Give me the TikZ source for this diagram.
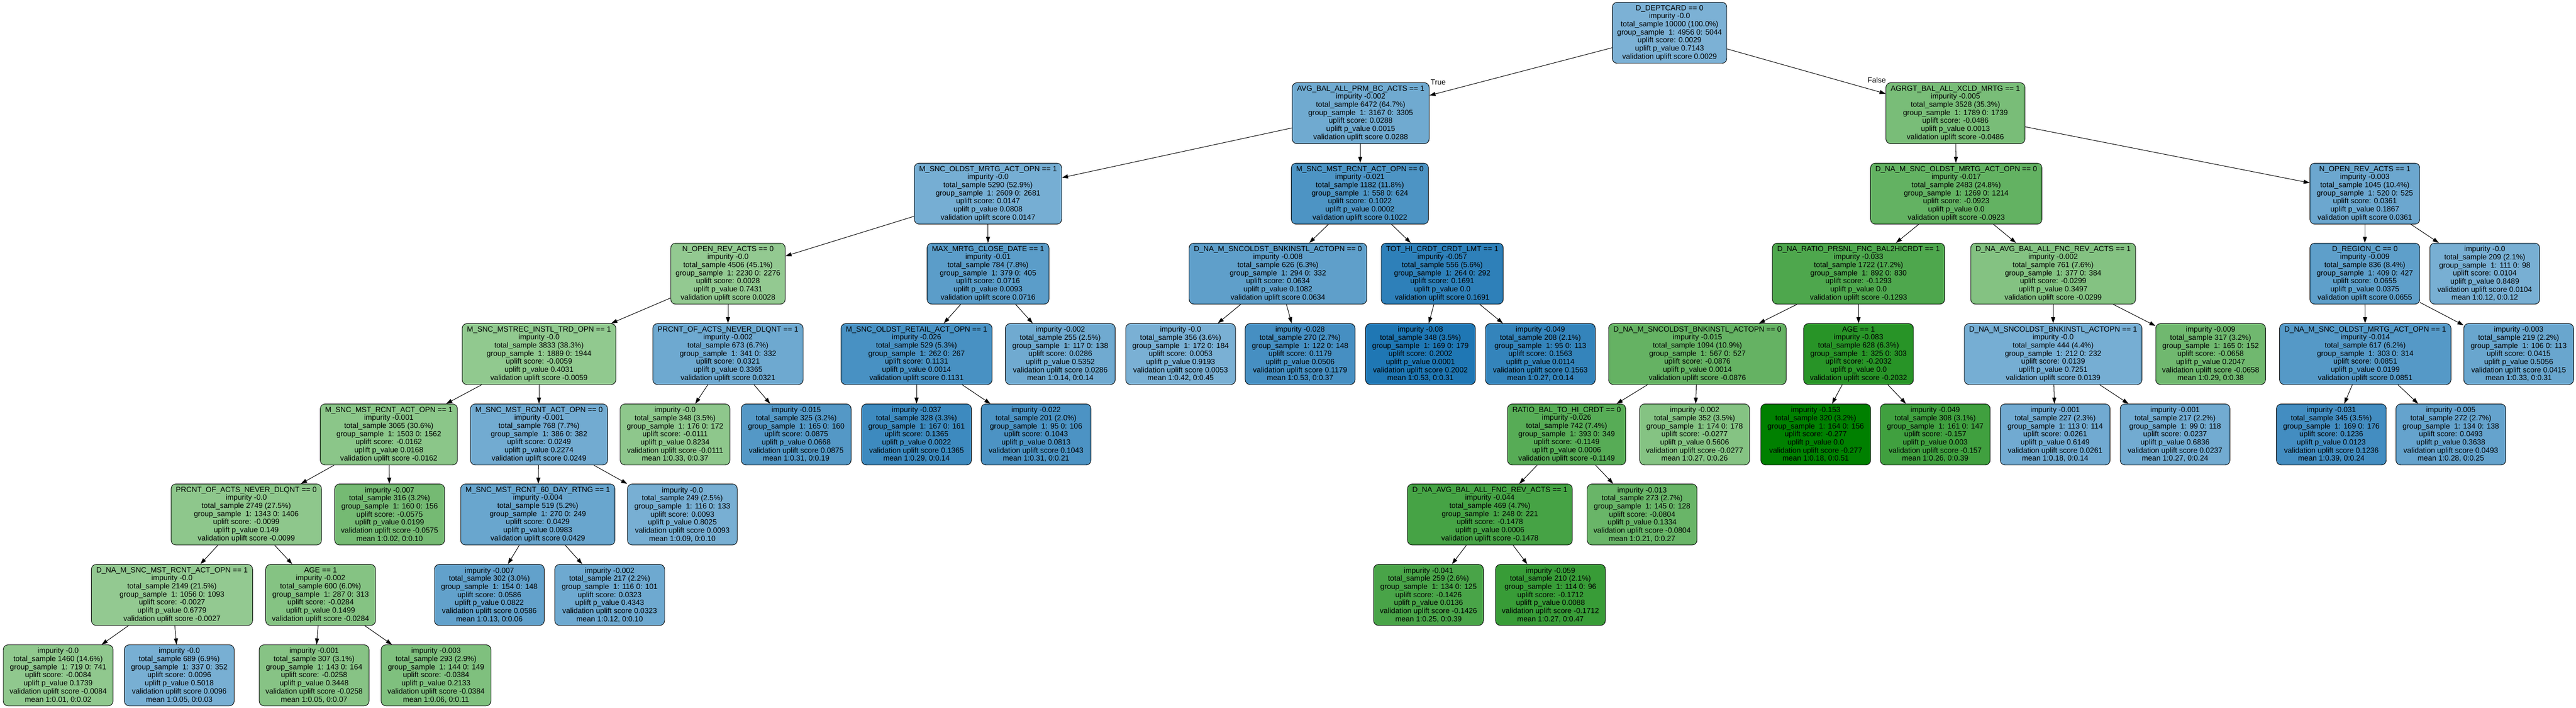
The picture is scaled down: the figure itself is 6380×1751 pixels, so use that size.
\documentclass[tikz,border=0pt]{standalone}
\usepackage{fontspec}
\setmainfont{Liberation Sans}
\usepackage{tikz}
\usetikzlibrary{shapes.geometric, arrows.meta}
\definecolor{blo}{RGB}{125,178,213}
\definecolor{bhi}{RGB}{31,119,180}
\definecolor{glo}{RGB}{148,202,146}
\definecolor{ghi}{RGB}{0,128,0}
\tikzstyle{box} = [draw, line width=1.2pt, rounded corners=12pt, align=center, anchor=north, minimum width=272pt, minimum height=151pt, inner xsep=12pt, inner ysep=2pt, font=\fontsize{18.5}{20}\selectfont]
\tikzstyle{arrow} = [line width=1.3pt, -{Triangle[length=15pt,width=10pt]}]
\tikzstyle{lbl} = [font=\fontsize{18.5}{20}\selectfont]
\tikzset{blu/.style={box, fill=bhi!#1!blo}, grn/.style={box, fill=ghi!#1!glo}}

\begin{document}
\begin{tikzpicture}[x=1pt,y=-1pt]
\useasboundingbox (0,0) rectangle (6380,1751);
\node[blu=1] (root) at (4135,5) {D\_DEPTCARD == 0\\impurity -0.0\\total\_sample 10000 (100.0\%)\\group\_sample\ \ 1: 4956 0: 5044\\uplift score: 0.0029\\uplift p\_value 0.7143\\validation uplift score 0.0029};
\node[blu=14] (avg) at (3370,204) {AVG\_BAL\_ALL\_PRM\_BC\_ACTS == 1\\impurity -0.002\\total\_sample 6472 (64.7\%)\\group\_sample\ \ 1: 3167 0: 3305\\uplift score: 0.0288\\uplift p\_value 0.0015\\validation uplift score 0.0288};
\node[grn=18] (agrgt) at (4843,204) {AGRGT\_BAL\_ALL\_XCLD\_MRTG == 1\\impurity -0.005\\total\_sample 3528 (35.3\%)\\group\_sample\ \ 1: 1789 0: 1739\\uplift score: -0.0486\\uplift p\_value 0.0013\\validation uplift score -0.0486};

\node[blu=7] (oldmrtg) at (2447,403) {M\_SNC\_OLDST\_MRTG\_ACT\_OPN == 1\\impurity -0.0\\total\_sample 5290 (52.9\%)\\group\_sample\ \ 1: 2609 0: 2681\\uplift score: 0.0147\\uplift p\_value 0.0808\\validation uplift score 0.0147};
\node[blu=51] (rcnt) at (3368,403) {M\_SNC\_MST\_RCNT\_ACT\_OPN == 0\\impurity -0.021\\total\_sample 1182 (11.8\%)\\group\_sample\ \ 1: 558 0: 624\\uplift score: 0.1022\\uplift p\_value 0.0002\\validation uplift score 0.1022};
\node[grn=33] (naoldmrtg) at (4845,403) {D\_NA\_M\_SNC\_OLDST\_MRTG\_ACT\_OPN == 0\\impurity -0.017\\total\_sample 2483 (24.8\%)\\group\_sample\ \ 1: 1269 0: 1214\\uplift score: -0.0923\\uplift p\_value 0.0\\validation uplift score -0.0923};
\node[blu=18] (openrev) at (5857,403) {N\_OPEN\_REV\_ACTS == 1\\impurity -0.003\\total\_sample 1045 (10.4\%)\\group\_sample\ \ 1: 520 0: 525\\uplift score: 0.0361\\uplift p\_value 0.1867\\validation uplift score 0.0361};

\node[grn=1] (openrevz) at (1803,601) {N\_OPEN\_REV\_ACTS == 0\\impurity -0.0\\total\_sample 4506 (45.1\%)\\group\_sample\ \ 1: 2230 0: 2276\\uplift score: 0.0028\\uplift p\_value 0.7431\\validation uplift score 0.0028};
\node[blu=36] (maxmrtg) at (2447,601) {MAX\_MRTG\_CLOSE\_DATE == 1\\impurity -0.01\\total\_sample 784 (7.8\%)\\group\_sample\ \ 1: 379 0: 405\\uplift score: 0.0716\\uplift p\_value 0.0093\\validation uplift score 0.0716};
\node[blu=32] (bnkinstl) at (3165,601) {D\_NA\_M\_SNCOLDST\_BNKINSTL\_ACTOPN == 0\\impurity -0.008\\total\_sample 626 (6.3\%)\\group\_sample\ \ 1: 294 0: 332\\uplift score: 0.0634\\uplift p\_value 0.1082\\validation uplift score 0.0634};
\node[blu=84] (tothi) at (3572,601) {TOT\_HI\_CRDT\_CRDT\_LMT == 1\\impurity -0.057\\total\_sample 556 (5.6\%)\\group\_sample\ \ 1: 264 0: 292\\uplift score: 0.1691\\uplift p\_value 0.0\\validation uplift score 0.1691};
\node[grn=47] (ratioprsnl) at (4603,601) {D\_NA\_RATIO\_PRSNL\_FNC\_BAL2HICRDT == 1\\impurity -0.033\\total\_sample 1722 (17.2\%)\\group\_sample\ \ 1: 892 0: 830\\uplift score: -0.1293\\uplift p\_value 0.0\\validation uplift score -0.1293};
\node[grn=11] (navgbal) at (5085,601) {D\_NA\_AVG\_BAL\_ALL\_FNC\_REV\_ACTS == 1\\impurity -0.002\\total\_sample 761 (7.6\%)\\group\_sample\ \ 1: 377 0: 384\\uplift score: -0.0299\\uplift p\_value 0.3497\\validation uplift score -0.0299};
\node[blu=33] (region) at (5857,601) {D\_REGION\_C == 0\\impurity -0.009\\total\_sample 836 (8.4\%)\\group\_sample\ \ 1: 409 0: 427\\uplift score: 0.0655\\uplift p\_value 0.0375\\validation uplift score 0.0655};
\node[blu=5] (lfa) at (6154,601) {impurity -0.0\\total\_sample 209 (2.1\%)\\group\_sample\ \ 1: 111 0: 98\\uplift score: 0.0104\\uplift p\_value 0.8489\\validation uplift score 0.0104\\mean 1:0.12, 0:0.12};

\node[grn=2] (mstrec) at (1335,800) {M\_SNC\_MSTREC\_INSTL\_TRD\_OPN == 1\\impurity -0.0\\total\_sample 3833 (38.3\%)\\group\_sample\ \ 1: 1889 0: 1944\\uplift score: -0.0059\\uplift p\_value 0.4031\\validation uplift score -0.0059};
\node[blu=16] (neverdlq) at (1803,800) {PRCNT\_OF\_ACTS\_NEVER\_DLQNT == 1\\impurity -0.002\\total\_sample 673 (6.7\%)\\group\_sample\ \ 1: 341 0: 332\\uplift score: 0.0321\\uplift p\_value 0.3365\\validation uplift score 0.0321};
\node[blu=56] (retail) at (2270,800) {M\_SNC\_OLDST\_RETAIL\_ACT\_OPN == 1\\impurity -0.026\\total\_sample 529 (5.3\%)\\group\_sample\ \ 1: 262 0: 267\\uplift score: 0.1131\\uplift p\_value 0.0014\\validation uplift score 0.1131};
\node[blu=14] (lfb) at (2626,800) {impurity -0.002\\total\_sample 255 (2.5\%)\\group\_sample\ \ 1: 117 0: 138\\uplift score: 0.0286\\uplift p\_value 0.5352\\validation uplift score 0.0286\\mean 1:0.14, 0:0.14};
\node[blu=3] (lfc) at (2924,800) {impurity -0.0\\total\_sample 356 (3.6\%)\\group\_sample\ \ 1: 172 0: 184\\uplift score: 0.0053\\uplift p\_value 0.9193\\validation uplift score 0.0053\\mean 1:0.42, 0:0.45};
\node[blu=59] (lfd) at (3220,800) {impurity -0.028\\total\_sample 270 (2.7\%)\\group\_sample\ \ 1: 122 0: 148\\uplift score: 0.1179\\uplift p\_value 0.0506\\validation uplift score 0.1179\\mean 1:0.53, 0:0.37};
\node[blu=100] (lfe) at (3518,800) {impurity -0.08\\total\_sample 348 (3.5\%)\\group\_sample\ \ 1: 169 0: 179\\uplift score: 0.2002\\uplift p\_value 0.0001\\validation uplift score 0.2002\\mean 1:0.53, 0:0.31};
\node[blu=78] (lff) at (3815,800) {impurity -0.049\\total\_sample 208 (2.1\%)\\group\_sample\ \ 1: 95 0: 113\\uplift score: 0.1563\\uplift p\_value 0.0114\\validation uplift score 0.1563\\mean 1:0.27, 0:0.14};
\node[grn=32] (bnkzero) at (4204,800) {D\_NA\_M\_SNCOLDST\_BNKINSTL\_ACTOPN == 0\\impurity -0.015\\total\_sample 1094 (10.9\%)\\group\_sample\ \ 1: 567 0: 527\\uplift score: -0.0876\\uplift p\_value 0.0014\\validation uplift score -0.0876};
\node[grn=73] (age) at (4603,800) {AGE == 1\\impurity -0.083\\total\_sample 628 (6.3\%)\\group\_sample\ \ 1: 325 0: 303\\uplift score: -0.2032\\uplift p\_value 0.0\\validation uplift score -0.2032};
\node[blu=7] (bnkone) at (5085,800) {D\_NA\_M\_SNCOLDST\_BNKINSTL\_ACTOPN == 1\\impurity -0.0\\total\_sample 444 (4.4\%)\\group\_sample\ \ 1: 212 0: 232\\uplift score: 0.0139\\uplift p\_value 0.7251\\validation uplift score 0.0139};
\node[grn=24] (lfg) at (5475,800) {impurity -0.009\\total\_sample 317 (3.2\%)\\group\_sample\ \ 1: 165 0: 152\\uplift score: -0.0658\\uplift p\_value 0.2047\\validation uplift score -0.0658\\mean 1:0.29, 0:0.38};
\node[blu=43] (namrtgone) at (5858,800) {D\_NA\_M\_SNC\_OLDST\_MRTG\_ACT\_OPN == 1\\impurity -0.014\\total\_sample 617 (6.2\%)\\group\_sample\ \ 1: 303 0: 314\\uplift score: 0.0851\\uplift p\_value 0.0199\\validation uplift score 0.0851};
\node[blu=21] (lfh) at (6238,800) {impurity -0.003\\total\_sample 219 (2.2\%)\\group\_sample\ \ 1: 106 0: 113\\uplift score: 0.0415\\uplift p\_value 0.5056\\validation uplift score 0.0415\\mean 1:0.33, 0:0.31};

\node[grn=6] (rcntone) at (963,999) {M\_SNC\_MST\_RCNT\_ACT\_OPN == 1\\impurity -0.001\\total\_sample 3065 (30.6\%)\\group\_sample\ \ 1: 1503 0: 1562\\uplift score: -0.0162\\uplift p\_value 0.0168\\validation uplift score -0.0162};
\node[blu=12] (rcntzero) at (1335,999) {M\_SNC\_MST\_RCNT\_ACT\_OPN == 0\\impurity -0.001\\total\_sample 768 (7.7\%)\\group\_sample\ \ 1: 386 0: 382\\uplift score: 0.0249\\uplift p\_value 0.2274\\validation uplift score 0.0249};
\node[grn=4] (lfi) at (1672,999) {impurity -0.0\\total\_sample 348 (3.5\%)\\group\_sample\ \ 1: 176 0: 172\\uplift score: -0.0111\\uplift p\_value 0.8234\\validation uplift score -0.0111\\mean 1:0.33, 0:0.37};
\node[blu=44] (lfj) at (1972,999) {impurity -0.015\\total\_sample 325 (3.2\%)\\group\_sample\ \ 1: 165 0: 160\\uplift score: 0.0875\\uplift p\_value 0.0668\\validation uplift score 0.0875\\mean 1:0.31, 0:0.19};
\node[blu=68] (lfk) at (2270,999) {impurity -0.037\\total\_sample 328 (3.3\%)\\group\_sample\ \ 1: 167 0: 161\\uplift score: 0.1365\\uplift p\_value 0.0022\\validation uplift score 0.1365\\mean 1:0.29, 0:0.14};
\node[blu=52] (lfl) at (2566,999) {impurity -0.022\\total\_sample 201 (2.0\%)\\group\_sample\ \ 1: 95 0: 106\\uplift score: 0.1043\\uplift p\_value 0.0813\\validation uplift score 0.1043\\mean 1:0.31, 0:0.21};
\node[grn=41] (ratiobal) at (3880,999) {RATIO\_BAL\_TO\_HI\_CRDT == 0\\impurity -0.026\\total\_sample 742 (7.4\%)\\group\_sample\ \ 1: 393 0: 349\\uplift score: -0.1149\\uplift p\_value 0.0006\\validation uplift score -0.1149};
\node[grn=10] (lfm) at (4197,999) {impurity -0.002\\total\_sample 352 (3.5\%)\\group\_sample\ \ 1: 174 0: 178\\uplift score: -0.0277\\uplift p\_value 0.5606\\validation uplift score -0.0277\\mean 1:0.27, 0:0.26};
\node[grn=100] (lfn) at (4497,999) {impurity -0.153\\total\_sample 320 (3.2\%)\\group\_sample\ \ 1: 164 0: 156\\uplift score: -0.277\\uplift p\_value 0.0\\validation uplift score -0.277\\mean 1:0.18, 0:0.51};
\node[grn=57] (lfo) at (4793,999) {impurity -0.049\\total\_sample 308 (3.1\%)\\group\_sample\ \ 1: 161 0: 147\\uplift score: -0.157\\uplift p\_value 0.003\\validation uplift score -0.157\\mean 1:0.26, 0:0.39};
\node[blu=13] (lfp) at (5090,999) {impurity -0.001\\total\_sample 227 (2.3\%)\\group\_sample\ \ 1: 113 0: 114\\uplift score: 0.0261\\uplift p\_value 0.6149\\validation uplift score 0.0261\\mean 1:0.18, 0:0.14};
\node[blu=12] (lfq) at (5387,999) {impurity -0.001\\total\_sample 217 (2.2\%)\\group\_sample\ \ 1: 99 0: 118\\uplift score: 0.0237\\uplift p\_value 0.6836\\validation uplift score 0.0237\\mean 1:0.27, 0:0.24};
\node[blu=62] (lfr) at (5774,999) {impurity -0.031\\total\_sample 345 (3.5\%)\\group\_sample\ \ 1: 169 0: 176\\uplift score: 0.1236\\uplift p\_value 0.0123\\validation uplift score 0.1236\\mean 1:0.39, 0:0.24};
\node[blu=25] (lfs) at (6070,999) {impurity -0.005\\total\_sample 272 (2.7\%)\\group\_sample\ \ 1: 134 0: 138\\uplift score: 0.0493\\uplift p\_value 0.3638\\validation uplift score 0.0493\\mean 1:0.28, 0:0.25};

\node[grn=4] (nvrzero) at (610,1197) {PRCNT\_OF\_ACTS\_NEVER\_DLQNT == 0\\impurity -0.0\\total\_sample 2749 (27.5\%)\\group\_sample\ \ 1: 1343 0: 1406\\uplift score: -0.0099\\uplift p\_value 0.149\\validation uplift score -0.0099};
\node[grn=21] (lft) at (965,1197) {impurity -0.007\\total\_sample 316 (3.2\%)\\group\_sample\ \ 1: 160 0: 156\\uplift score: -0.0575\\uplift p\_value 0.0199\\validation uplift score -0.0575\\mean 1:0.02, 0:0.10};
\node[blu=21] (sixty) at (1332,1197) {M\_SNC\_MST\_RCNT\_60\_DAY\_RTNG == 1\\impurity -0.004\\total\_sample 519 (5.2\%)\\group\_sample\ \ 1: 270 0: 249\\uplift score: 0.0429\\uplift p\_value 0.0983\\validation uplift score 0.0429};
\node[blu=5] (lfu) at (1690,1197) {impurity -0.0\\total\_sample 249 (2.5\%)\\group\_sample\ \ 1: 116 0: 133\\uplift score: 0.0093\\uplift p\_value 0.8025\\validation uplift score 0.0093\\mean 1:0.09, 0:0.10};
\node[grn=53] (navgsix) at (3690,1197) {D\_NA\_AVG\_BAL\_ALL\_FNC\_REV\_ACTS == 1\\impurity -0.044\\total\_sample 469 (4.7\%)\\group\_sample\ \ 1: 248 0: 221\\uplift score: -0.1478\\uplift p\_value 0.0006\\validation uplift score -0.1478};
\node[grn=29] (lfv) at (4067,1197) {impurity -0.013\\total\_sample 273 (2.7\%)\\group\_sample\ \ 1: 145 0: 128\\uplift score: -0.0804\\uplift p\_value 0.1334\\validation uplift score -0.0804\\mean 1:0.21, 0:0.27};

\node[grn=1] (nsncrcnt) at (426,1396) {D\_NA\_M\_SNC\_MST\_RCNT\_ACT\_OPN == 1\\impurity -0.0\\total\_sample 2149 (21.5\%)\\group\_sample\ \ 1: 1056 0: 1093\\uplift score: -0.0027\\uplift p\_value 0.6779\\validation uplift score -0.0027};
\node[grn=10] (agetwo) at (794,1396) {AGE == 1\\impurity -0.002\\total\_sample 600 (6.0\%)\\group\_sample\ \ 1: 287 0: 313\\uplift score: -0.0284\\uplift p\_value 0.1499\\validation uplift score -0.0284};
\node[blu=29] (lfw) at (1212,1396) {impurity -0.007\\total\_sample 302 (3.0\%)\\group\_sample\ \ 1: 154 0: 148\\uplift score: 0.0586\\uplift p\_value 0.0822\\validation uplift score 0.0586\\mean 1:0.13, 0:0.06};
\node[blu=16] (lfx) at (1510,1396) {impurity -0.002\\total\_sample 217 (2.2\%)\\group\_sample\ \ 1: 116 0: 101\\uplift score: 0.0323\\uplift p\_value 0.4343\\validation uplift score 0.0323\\mean 1:0.12, 0:0.10};
\node[grn=51] (lfy) at (3538,1396) {impurity -0.041\\total\_sample 259 (2.6\%)\\group\_sample\ \ 1: 134 0: 125\\uplift score: -0.1426\\uplift p\_value 0.0136\\validation uplift score -0.1426\\mean 1:0.25, 0:0.39};
\node[grn=62] (lfz) at (3840,1396) {impurity -0.059\\total\_sample 210 (2.1\%)\\group\_sample\ \ 1: 114 0: 96\\uplift score: -0.1712\\uplift p\_value 0.0088\\validation uplift score -0.1712\\mean 1:0.27, 0:0.47};

\node[grn=3] (lfaa) at (144,1595) {impurity -0.0\\total\_sample 1460 (14.6\%)\\group\_sample\ \ 1: 719 0: 741\\uplift score: -0.0084\\uplift p\_value 0.1739\\validation uplift score -0.0084\\mean 1:0.01, 0:0.02};
\node[blu=5] (lfab) at (444,1595) {impurity -0.0\\total\_sample 689 (6.9\%)\\group\_sample\ \ 1: 337 0: 352\\uplift score: 0.0096\\uplift p\_value 0.5018\\validation uplift score 0.0096\\mean 1:0.05, 0:0.03};
\node[grn=9] (lfac) at (778,1595) {impurity -0.001\\total\_sample 307 (3.1\%)\\group\_sample\ \ 1: 143 0: 164\\uplift score: -0.0258\\uplift p\_value 0.3448\\validation uplift score -0.0258\\mean 1:0.05, 0:0.07};
\node[grn=14] (lfad) at (1080,1595) {impurity -0.003\\total\_sample 293 (2.9\%)\\group\_sample\ \ 1: 144 0: 149\\uplift score: -0.0384\\uplift p\_value 0.2133\\validation uplift score -0.0384\\mean 1:0.06, 0:0.11};

\node[lbl] (truelbl) at (3562,203) {True};
\node[lbl] (falselbl) at (4648,198) {False};

\draw [arrow] (root) -- (avg);
\draw [arrow] (root) -- (agrgt);
\draw [arrow] (avg) -- (oldmrtg);
\draw [arrow] (avg) -- (rcnt);
\draw [arrow] (agrgt) -- (naoldmrtg);
\draw [arrow] (agrgt) -- (openrev);
\draw [arrow] (oldmrtg) -- (openrevz);
\draw [arrow] (oldmrtg) -- (maxmrtg);
\draw [arrow] (rcnt) -- (bnkinstl);
\draw [arrow] (rcnt) -- (tothi);
\draw [arrow] (naoldmrtg) -- (ratioprsnl);
\draw [arrow] (naoldmrtg) -- (navgbal);
\draw [arrow] (openrev) -- (region);
\draw [arrow] (openrev) -- (lfa);
\draw [arrow] (openrevz) -- (mstrec);
\draw [arrow] (openrevz) -- (neverdlq);
\draw [arrow] (maxmrtg) -- (retail);
\draw [arrow] (maxmrtg) -- (lfb);
\draw [arrow] (bnkinstl) -- (lfc);
\draw [arrow] (bnkinstl) -- (lfd);
\draw [arrow] (tothi) -- (lfe);
\draw [arrow] (tothi) -- (lff);
\draw [arrow] (ratioprsnl) -- (bnkzero);
\draw [arrow] (ratioprsnl) -- (age);
\draw [arrow] (navgbal) -- (bnkone);
\draw [arrow] (navgbal) -- (lfg);
\draw [arrow] (region) -- (namrtgone);
\draw [arrow] (region) -- (lfh);
\draw [arrow] (mstrec) -- (rcntone);
\draw [arrow] (mstrec) -- (rcntzero);
\draw [arrow] (neverdlq) -- (lfi);
\draw [arrow] (neverdlq) -- (lfj);
\draw [arrow] (retail) -- (lfk);
\draw [arrow] (retail) -- (lfl);
\draw [arrow] (bnkzero) -- (ratiobal);
\draw [arrow] (bnkzero) -- (lfm);
\draw [arrow] (age) -- (lfn);
\draw [arrow] (age) -- (lfo);
\draw [arrow] (bnkone) -- (lfp);
\draw [arrow] (bnkone) -- (lfq);
\draw [arrow] (namrtgone) -- (lfr);
\draw [arrow] (namrtgone) -- (lfs);
\draw [arrow] (rcntone) -- (nvrzero);
\draw [arrow] (rcntone) -- (lft);
\draw [arrow] (rcntzero) -- (sixty);
\draw [arrow] (rcntzero) -- (lfu);
\draw [arrow] (ratiobal) -- (navgsix);
\draw [arrow] (ratiobal) -- (lfv);
\draw [arrow] (nvrzero) -- (nsncrcnt);
\draw [arrow] (nvrzero) -- (agetwo);
\draw [arrow] (sixty) -- (lfw);
\draw [arrow] (sixty) -- (lfx);
\draw [arrow] (navgsix) -- (lfy);
\draw [arrow] (navgsix) -- (lfz);
\draw [arrow] (nsncrcnt) -- (lfaa);
\draw [arrow] (nsncrcnt) -- (lfab);
\draw [arrow] (agetwo) -- (lfac);
\draw [arrow] (agetwo) -- (lfad);
\end{tikzpicture}
\end{document}
